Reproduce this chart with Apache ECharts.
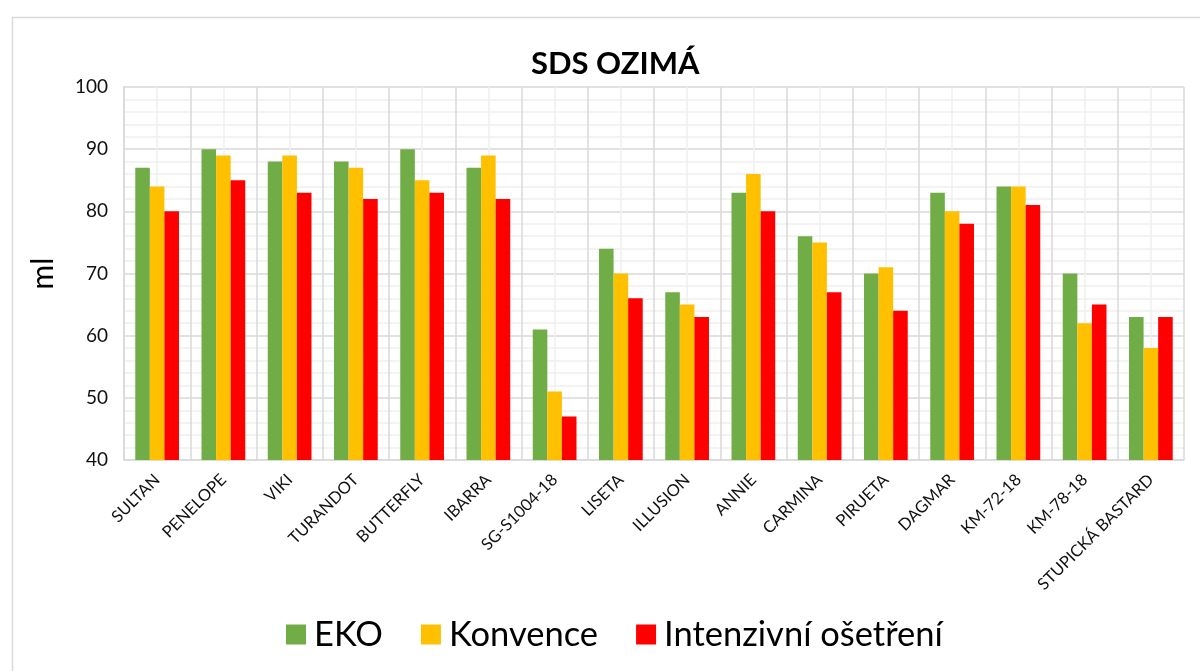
<!DOCTYPE html>
<html><head><meta charset="utf-8">
<script src="https://cdn.jsdelivr.net/npm/echarts@6/dist/echarts.min.js"></script>
<style>html,body{margin:0;padding:0;background:#fff}#c{width:1200px;height:671px}</style>
</head><body><div id="c"></div>
<script>
const categories = ['SULTAN','PENELOPE','VIKI','TURANDOT','BUTTERFLY','IBARRA','SG-S1004-18','LISETA','ILLUSION','ANNIE','CARMINA','PIRUETA','DAGMAR','KM-72-18','KM-78-18','STUPICKÁ BASTARD'];
const eko       = [87,90,88,88,90,87,61,74,67,83,76,70,83,84,70,63];
const konvence  = [84,89,89,87,85,89,51,70,65,86,75,71,80,84,62,58];
const intenzivni= [80,85,83,82,83,82,47,66,63,80,67,64,78,81,65,63];
const seriesNames = ['EKO','Konvence','Intenzivní ošetření'];
const colors = ['#70AD47','#FFC000','#FF0000'];
const FONT = 'Lato, "Open Sans", sans-serif';

const chart = echarts.init(document.getElementById('c'));
const mk = (name, data, color) => ({
  name, type:'bar', data, xAxisIndex:0, barGap:'0%', barCategoryGap:'34%',
  itemStyle:{color}
});
chart.setOption({
  animation:false,
  textStyle:{fontFamily:FONT},
  title:{text:'SDS OZIMÁ', left:526, top:43,
    textStyle:{fontFamily:FONT, fontSize:31, fontWeight:'bold', color:'#000'}},
  graphic:[{type:'rect', left:10, top:15, shape:{width:1200, height:700},
    style:{fill:'none', stroke:'#d9d9d9', lineWidth:1.5}, z:-10}],
  legend:{left:281, top:612, itemWidth:20, itemHeight:20, itemGap:38, icon:'rect',
    textStyle:{fontFamily:FONT, fontSize:34.5, color:'#000', padding:[0,0,0,3]}, data:seriesNames},
  grid:{left:124, right:16, top:87, bottom:211},
  xAxis:[{
    type:'category', data:categories,
    axisLine:{show:true, lineStyle:{color:'#d9d9d9', width:1.5}},
    axisTick:{show:false}, splitLine:{show:false},
    axisLabel:{rotate:45, margin:17, interval:0, fontSize:16.5, color:'#111', fontFamily:FONT}
  },{
    type:'value', min:0, max:16, interval:1, position:'bottom',
    axisLine:{show:false}, axisTick:{show:false}, axisLabel:{show:false},
    splitLine:{show:true, lineStyle:{color:'#d9d9d9', width:1.5}},
    minorTick:{show:false, splitNumber:2},
    minorSplitLine:{show:true, lineStyle:{color:'#f0f0f0', width:1.5}}
  }],
  yAxis:{
    type:'value', min:40, max:100, interval:10,
    name:'ml', nameLocation:'middle', nameGap:66, nameRotate:90,
    nameTextStyle:{fontSize:30, color:'#000', fontFamily:FONT},
    axisLine:{show:true, lineStyle:{color:'#d9d9d9', width:1.5}},
    axisTick:{show:false},
    axisLabel:{fontSize:19, color:'#111', margin:16, fontFamily:FONT},
    splitLine:{show:true, lineStyle:{color:'#d9d9d9', width:1.5}},
    minorTick:{show:false, splitNumber:5},
    minorSplitLine:{show:true, lineStyle:{color:'#f0f0f0', width:1.5}}
  },
  series:[mk(seriesNames[0], eko, colors[0]), mk(seriesNames[1], konvence, colors[1]), mk(seriesNames[2], intenzivni, colors[2])]
});
</script></body></html>
